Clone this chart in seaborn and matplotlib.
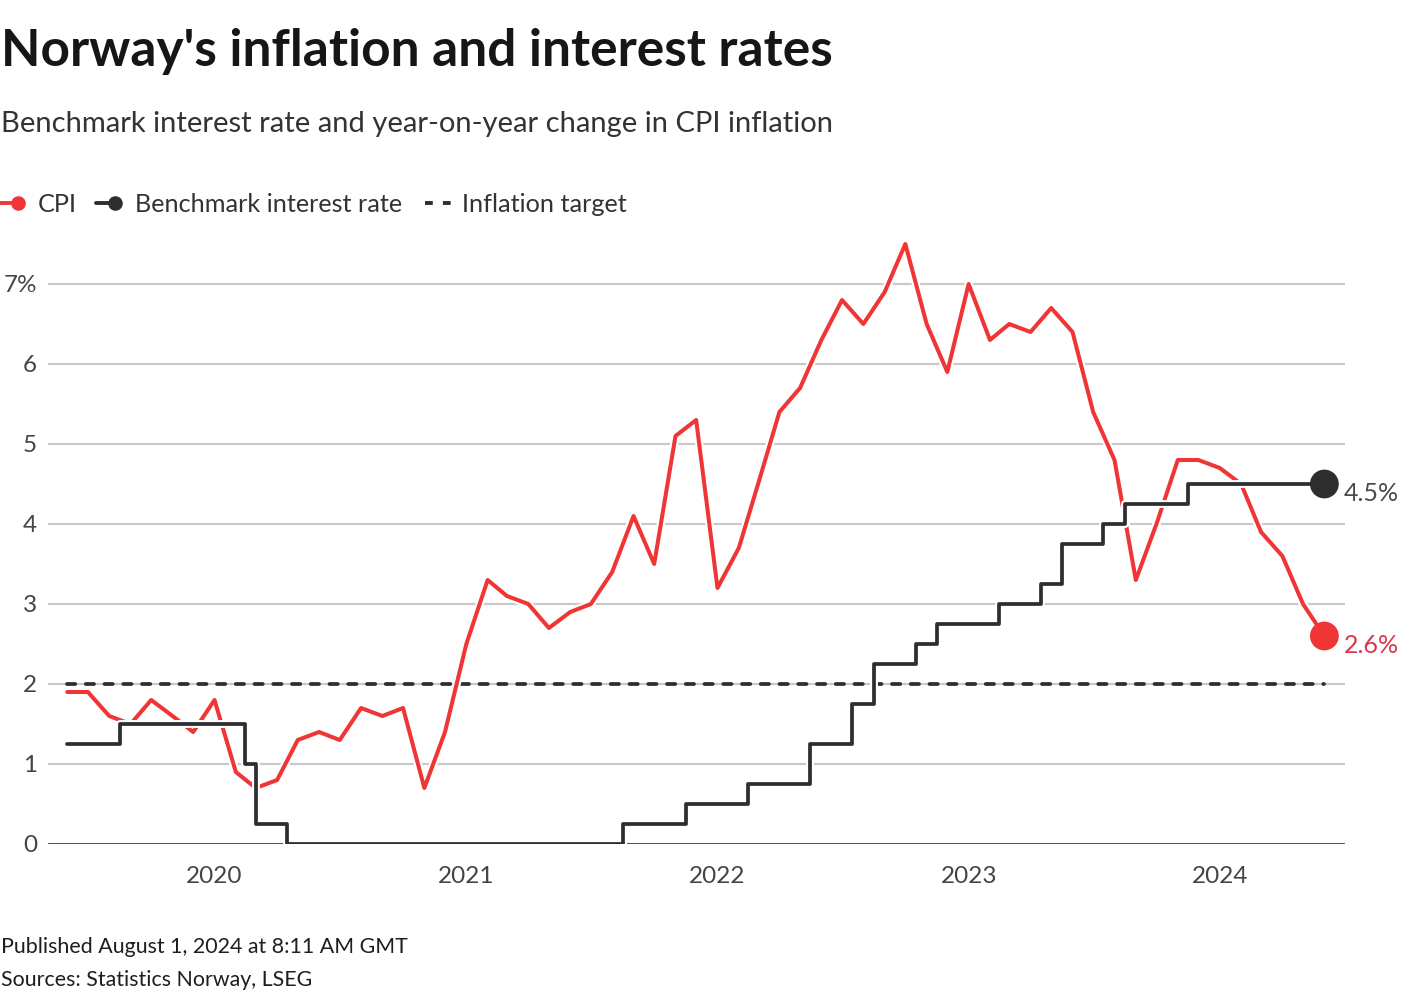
import pandas as pd
import numpy as np
import matplotlib
matplotlib.use('Agg')
import matplotlib.pyplot as plt
import matplotlib.patheffects as pe
from matplotlib.lines import Line2D
from matplotlib.ticker import FuncFormatter
import seaborn as sns

# CPI, year-on-year change in %, monthly Jun 2019 - Jun 2024
cpi_start = '2019-06-01'
cpi_end = '2024-06-01'
cpi_values = [1.9, 1.9, 1.6, 1.5, 1.8, 1.6, 1.4,
              1.8, 0.9, 0.7, 0.8, 1.3, 1.4, 1.3, 1.7, 1.6, 1.7, 0.7, 1.4,
              2.5, 3.3, 3.1, 3.0, 2.7, 2.9, 3.0, 3.4, 4.1, 3.5, 5.1, 5.3,
              3.2, 3.7, 4.5, 5.4, 5.7, 6.3, 6.8, 6.5, 6.9, 7.5, 6.5, 5.9,
              7.0, 6.3, 6.5, 6.4, 6.7, 6.4, 5.4, 4.8, 3.3, 4.0, 4.8, 4.8,
              4.7, 4.5, 3.9, 3.6, 3.0, 2.6]

# benchmark rate, where the step changes (as drawn in the chart)
rate_dates = ['2019-06-01', '2019-08-16', '2020-02-15', '2020-03-01', '2020-04-16',
              '2021-08-16', '2021-11-16', '2022-02-14', '2022-05-16', '2022-07-16',
              '2022-08-16', '2022-10-16', '2022-11-16', '2023-02-14', '2023-04-16',
              '2023-05-16', '2023-07-16', '2023-08-16', '2023-11-16', '2024-06-01']
rate_values = [1.25, 1.5, 1.0, 0.25, 0.0,
               0.25, 0.5, 0.75, 1.25, 1.75,
               2.25, 2.5, 2.75, 3.0, 3.25,
               3.75, 4.0, 4.25, 4.5, 4.5]

target_dates = ['2019-06-01', '2024-06-01']
target_values = [2, 2]

year_ticks = ['2020-01-01', '2021-01-01', '2022-01-01', '2023-01-01', '2024-01-01']
year_labels = ['2020', '2021', '2022', '2023', '2024']
y_ticks = [0, 1, 2, 3, 4, 5, 6, 7]

df_cpi = pd.DataFrame({'date': pd.date_range(cpi_start, cpi_end, freq='MS'),
                       'cpi': cpi_values})
df_rate = pd.DataFrame({'date': pd.to_datetime(rate_dates), 'rate': rate_values})
df_target = pd.DataFrame({'date': pd.to_datetime(target_dates), 'target': target_values})

RED = '#ef3535'
DARK = '#2e2e31'
GRID = '#c9c9c9'
TXT = '#444444'

sns.set_theme(style='white')
plt.rcParams['font.family'] = ['Lato', 'DejaVu Sans']

W, H = 1420, 1000
fig = plt.figure(figsize=(W / 100, H / 100), dpi=100)
fig.patch.set_facecolor('white')

def fx(px):
    return px / W

def fy(py):
    return 1 - py / H

ylim_top = 7.6
ax = fig.add_axes([fx(48), fy(844), fx(1345) - fx(48), ylim_top * 80 / H])

halo = lambda w: [pe.Stroke(linewidth=w + 3, foreground='white'), pe.Normal()]

for v in y_ticks[1:]:
    ax.axhline(v, color=GRID, lw=1.6, zorder=1)
ax.axhline(0, color='#1e1e1e', lw=1.8, zorder=2)

sns.lineplot(data=df_target, x='date', y='target', ax=ax, color=DARK, lw=2.7,
             dashes=False, zorder=3)
ax.lines[-1].set_dashes([2.2, 2.8])
ax.lines[-1].set_dash_capstyle('round')

sns.lineplot(data=df_cpi, x='date', y='cpi', ax=ax, color=RED, lw=2.9, zorder=4)
ax.lines[-1].set_path_effects(halo(2.9))
sns.scatterplot(x=df_cpi['date'].iloc[[-1]], y=df_cpi['cpi'].iloc[[-1]], ax=ax,
                color=RED, s=430, edgecolor='none', zorder=6)

sns.lineplot(data=df_rate, x='date', y='rate', ax=ax, color=DARK, lw=2.7,
             drawstyle='steps-post', zorder=5)
ax.lines[-1].set_path_effects(halo(2.7))
sns.scatterplot(x=df_rate['date'].iloc[[-1]], y=df_rate['rate'].iloc[[-1]], ax=ax,
                color=DARK, s=430, edgecolor='none', zorder=7)

# end labels
ax.annotate(f"{df_rate['rate'].iloc[-1]}%", (df_rate['date'].iloc[-1], df_rate['rate'].iloc[-1]),
            xytext=(14, -7), textcoords='offset points', va='center', ha='left',
            fontsize=18, color='#4a4a4a', annotation_clip=False)
ax.annotate(f"{df_cpi['cpi'].iloc[-1]}%", (df_cpi['date'].iloc[-1], df_cpi['cpi'].iloc[-1]),
            xytext=(14, -7), textcoords='offset points', va='center', ha='left',
            fontsize=18, color='#d9384c', annotation_clip=False)

ax.set_xlim(pd.Timestamp('2019-05-04'), pd.Timestamp('2024-07-01'))
ax.set_ylim(0, ylim_top)
ax.set_xticks(pd.to_datetime(year_ticks))
ax.set_xticklabels(year_labels)
ax.set_yticks(y_ticks)
ax.yaxis.set_major_formatter(FuncFormatter(lambda v, p: f'{int(v)}%' if v == 7 else f'{int(v)}'))
ax.tick_params(axis='x', length=0, pad=16, labelsize=17.5, labelcolor=TXT)
ax.tick_params(axis='y', length=0, pad=8, labelsize=17.5, labelcolor=TXT)
ax.set_xlabel('')
ax.set_ylabel('')
ax.set_facecolor('none')
for s in ax.spines.values():
    s.set_visible(False)
ax.grid(False)
if ax.get_legend():
    ax.get_legend().remove()

# titles
fig.text(fx(1), fy(66), "Norway's inflation and interest rates", fontsize=37,
         fontweight='bold', color='#161616', va='baseline', ha='left')
fig.text(fx(1), fy(132), 'Benchmark interest rate and year-on-year change in CPI inflation',
         fontsize=20.95, color='#333333', va='baseline', ha='left')

# legend
ly = fy(203)
LEG = '#333333'
fig.add_artist(Line2D([fx(0), fx(18)], [ly, ly], color=RED, lw=2.8))
fig.add_artist(Line2D([fx(18)], [ly], color=RED, marker='o', markersize=10.5, markeredgewidth=0))
fig.text(fx(38), fy(212), 'CPI', fontsize=18.2, color=LEG, va='baseline')
fig.add_artist(Line2D([fx(96), fx(114)], [ly, ly], color=DARK, lw=2.8))
fig.add_artist(Line2D([fx(115)], [ly], color=DARK, marker='o', markersize=10.5, markeredgewidth=0))
fig.text(fx(135), fy(212), 'Benchmark interest rate', fontsize=18.2, color=LEG, va='baseline')
fig.add_artist(Line2D([fx(425), fx(452)], [ly, ly], color=DARK, lw=2.8, dashes=[2.0, 2.6]))
fig.text(fx(462), fy(212), 'Inflation target', fontsize=18.2, color=LEG, va='baseline')

# footer
fig.text(fx(1), fy(953), 'Published August 1, 2024 at 8:11 AM GMT', fontsize=15.4,
         color='#1e1e1e', va='baseline')
fig.text(fx(1), fy(986), 'Sources: Statistics Norway, LSEG', fontsize=15.4,
         color='#1e1e1e', va='baseline')

fig.savefig('out.png', dpi=100, facecolor='white')
